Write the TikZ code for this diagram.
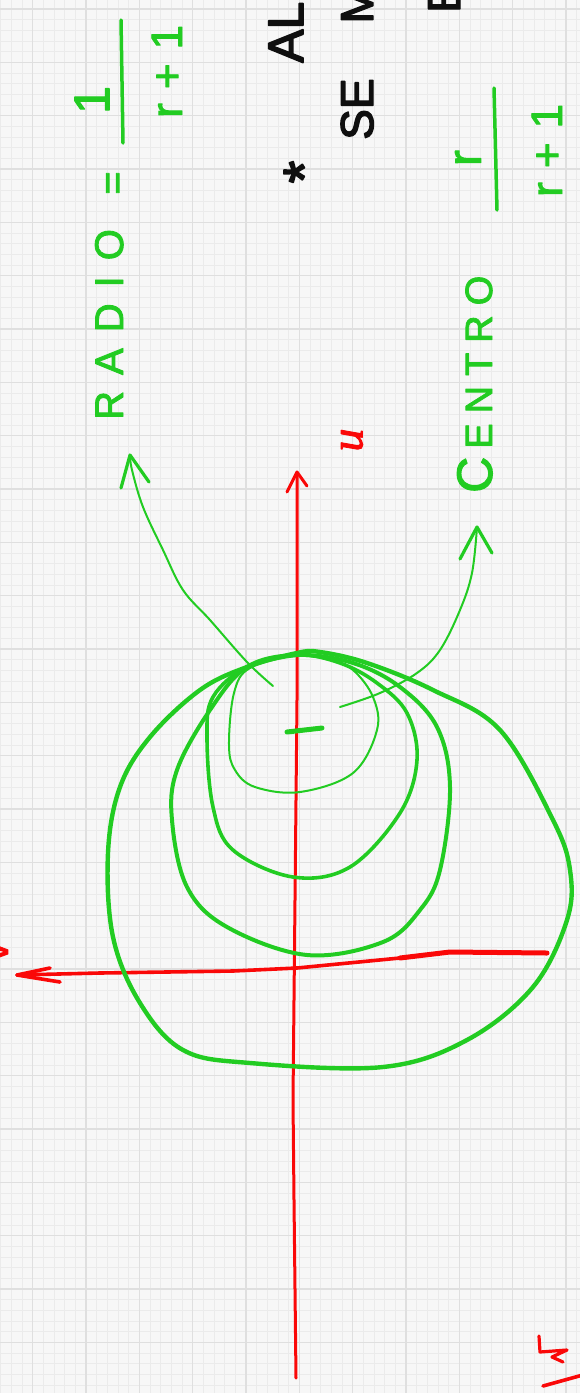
\documentclass[tikz,border=0pt]{standalone}
\usepackage{fontspec}
\setmainfont{Liberation Sans}
\newfontfamily\hand{Liberation Sans}[FakeBold=2.2]
\newfontfamily\handk{Liberation Sans}[FakeBold=3]
\newfontfamily\handit{Liberation Serif}[FakeBold=2]
\definecolor{gr}{RGB}{34,204,34}
\definecolor{rd}{RGB}{250,8,8}
\definecolor{ink}{RGB}{15,15,15}
\definecolor{bgc}{RGB}{247,247,247}
\definecolor{minorc}{RGB}{235,235,235}
\definecolor{majorc}{RGB}{223,223,223}
\begin{document}
\begin{tikzpicture}[x=1pt,y=-1pt,line cap=round,line join=round,
  gthick/.style={draw=gr,line width=4pt},
  gthin/.style={draw=gr,line width=2pt},
  garrow/.style={draw=gr,line width=2pt},
  ghead/.style={draw=gr,line width=3.2pt},
  raxis/.style={draw=rd,line width=3pt},
  glabel/.style={text=gr,inner sep=0pt,rotate=90,anchor=base west},
  gcenter/.style={text=gr,inner sep=0pt,rotate=90,anchor=center},
  blabel/.style={text=ink,inner sep=0pt,rotate=90,anchor=base west},
  rlabel/.style={text=rd,inner sep=0pt,rotate=90,anchor=center}]
\useasboundingbox (0,0) rectangle (580,1393);
% paper grid
\fill[bgc] (0,0) rectangle (580,1393);
\foreach \i in {0,...,55}
  \draw[minorc,line width=0.8pt] ({0.67+10.6667*\i},0) -- ({0.67+10.6667*\i},1393);
\foreach \i in {0,...,131}
  \draw[minorc,line width=0.8pt] (0,{-1.67+10.6667*\i}) -- (580,{-1.67+10.6667*\i});
\foreach \i in {-1,...,10}
  \draw[majorc,line width=1.6pt] ({32.67+53.333*\i},0) -- ({32.67+53.333*\i},1393);
\foreach \i in {0,...,25}
  \draw[majorc,line width=1.6pt] (0,{9+53.333*\i}) -- (580,{9+53.333*\i});

% red axes
\coordinate (uTip) at (297,472);
\coordinate (vTip) at (17,975);
\draw[raxis] (296,1378) -- (294,1200) -- (293,1100) -- (295,900) -- (297,700) -- (297,620) -- (uTip);
\draw[raxis] (287,492) -- (uTip) -- (307,486);
\draw[draw=rd,line width=5pt] (547,953) -- (450,952) -- (400,958);
\draw[draw=rd,line width=3.6pt] (400,958) -- (297,968) -- (233,971) -- (100,973) -- (vTip);
\draw[draw=rd,line width=3.6pt] (50,968) -- (vTip) -- (60,982);
\node[rlabel,font=\handit\itshape\fontsize{46}{46}\selectfont] (ulab) at (352,440) {u};
\node[text=rd,inner sep=0pt,rotate=90,anchor=base west,font=\hand\fontsize{40}{40}\selectfont] (vlab) at (8,962) {v};
% fragment of the next drawing (bottom right)
\draw[draw=rd,line width=3.2pt] (539,1336) -- (540,1352) -- (567,1350) -- (552,1357) -- (563,1362);
\draw[draw=rd,line width=3.6pt] (543,1386) -- (590,1373);

% green circles (constant r)
\draw[gthick,line width=4.4pt] plot[smooth cycle,tension=0.6] coordinates {
  (297,653) (247,667) (200,690) (150,737) (120,787) (108,853) (113,937) (140,1003)
  (183,1050) (250,1063) (383,1067) (467,1040) (533,987) (567,920) (570,870)
  (553,820) (500,730) (433,690) (367,663) (320,652)};
\draw[gthick] plot[smooth cycle,tension=0.6] coordinates {
  (297,655) (247,667) (210,710) (177,770) (172,820) (187,887) (227,927) (307,955)
  (383,942) (420,910) (440,870) (450,787) (437,727) (400,687) (353,663)};
\draw[gthick,line width=3.6pt] plot[smooth cycle,tension=0.6] coordinates {
  (297,655) (247,667) (213,697) (207,737) (213,807) (233,850) (293,877) (350,867)
  (400,813) (417,760) (407,713) (377,683) (340,663)};
\draw[gthin] plot[smooth cycle,tension=0.6] coordinates {
  (297,656) (250,668) (234,693) (229,745) (235,770) (255,787) (300,792) (353,773)
  (377,730) (373,697) (353,670) (330,660)};
\draw[draw=gr,line width=5pt] (287,732) -- (322,728);

% arrows to the labels
\coordinate (radioTip) at (130,455);
\coordinate (centroTip) at (477,527);
\draw[garrow] plot[smooth,tension=0.6] coordinates {
  (273,686) (247,662) (210,620) (183,590) (163,550) (143,507) (132,470) (radioTip)};
\draw[ghead] (121,488) -- (radioTip) -- (149,482);
\draw[garrow] plot[smooth,tension=0.6] coordinates {
  (340,707) (380,693) (417,673) (440,650) (460,610) (472,573) (centroTip)};
\draw[ghead] (460,559) -- (centroTip) -- (492,553);

% RADIO = 1/(r+1)
\node[glabel,font=\hand\fontsize{40}{40}\selectfont] (radio) at (123,420)
  {R\kern16pt A\kern16pt D\kern16pt I\kern16pt O};
\node[gcenter,font=\hand\fontsize{40}{40}\selectfont] (eq) at (116,183) {=};
\draw[draw=gr,line width=3.5pt] (121,20) -- (123,143);
\node[gcenter,font=\hand\fontsize{50}{50}\selectfont] (numA) at (92,100) {1};
\node[glabel,font=\hand\fontsize{44}{44}\selectfont] (denA) at (182,118) {r\kern14pt+\kern14pt1};

% CENTRO r/(r+1)
\node[glabel,font=\hand\fontsize{38}{38}\selectfont] (centro) at (492,493)
  {{\fontsize{50}{50}\selectfont C}\kern8pt E\kern10pt N\kern10pt T\kern10pt R\kern10pt O};
\draw[draw=gr,line width=3.5pt] (494,88) -- (497,210);
\node[gcenter,font=\hand\fontsize{48}{48}\selectfont] (numB) at (468,158) {r};
\node[glabel,font=\hand\fontsize{44}{44}\selectfont] (denB) at (562,197) {r\kern14pt+\kern14pt1};

% black notes (cut off at the top, as in the source)
\node[text=ink,inner sep=0pt,rotate=90,anchor=center,font=\handk\fontsize{58}{58}\selectfont] (star) at (304,172) {*};
\node[blabel,font=\handk\fontsize{50}{50}\selectfont] (al) at (303,63) {AL};
\node[blabel,font=\handk\fontsize{46}{46}\selectfont] (se) at (373,140) {SE\hspace{55pt}M};
\node[blabel,font=\handk\fontsize{46}{46}\selectfont] (e3) at (460,13) {E};
\end{tikzpicture}
\end{document}
